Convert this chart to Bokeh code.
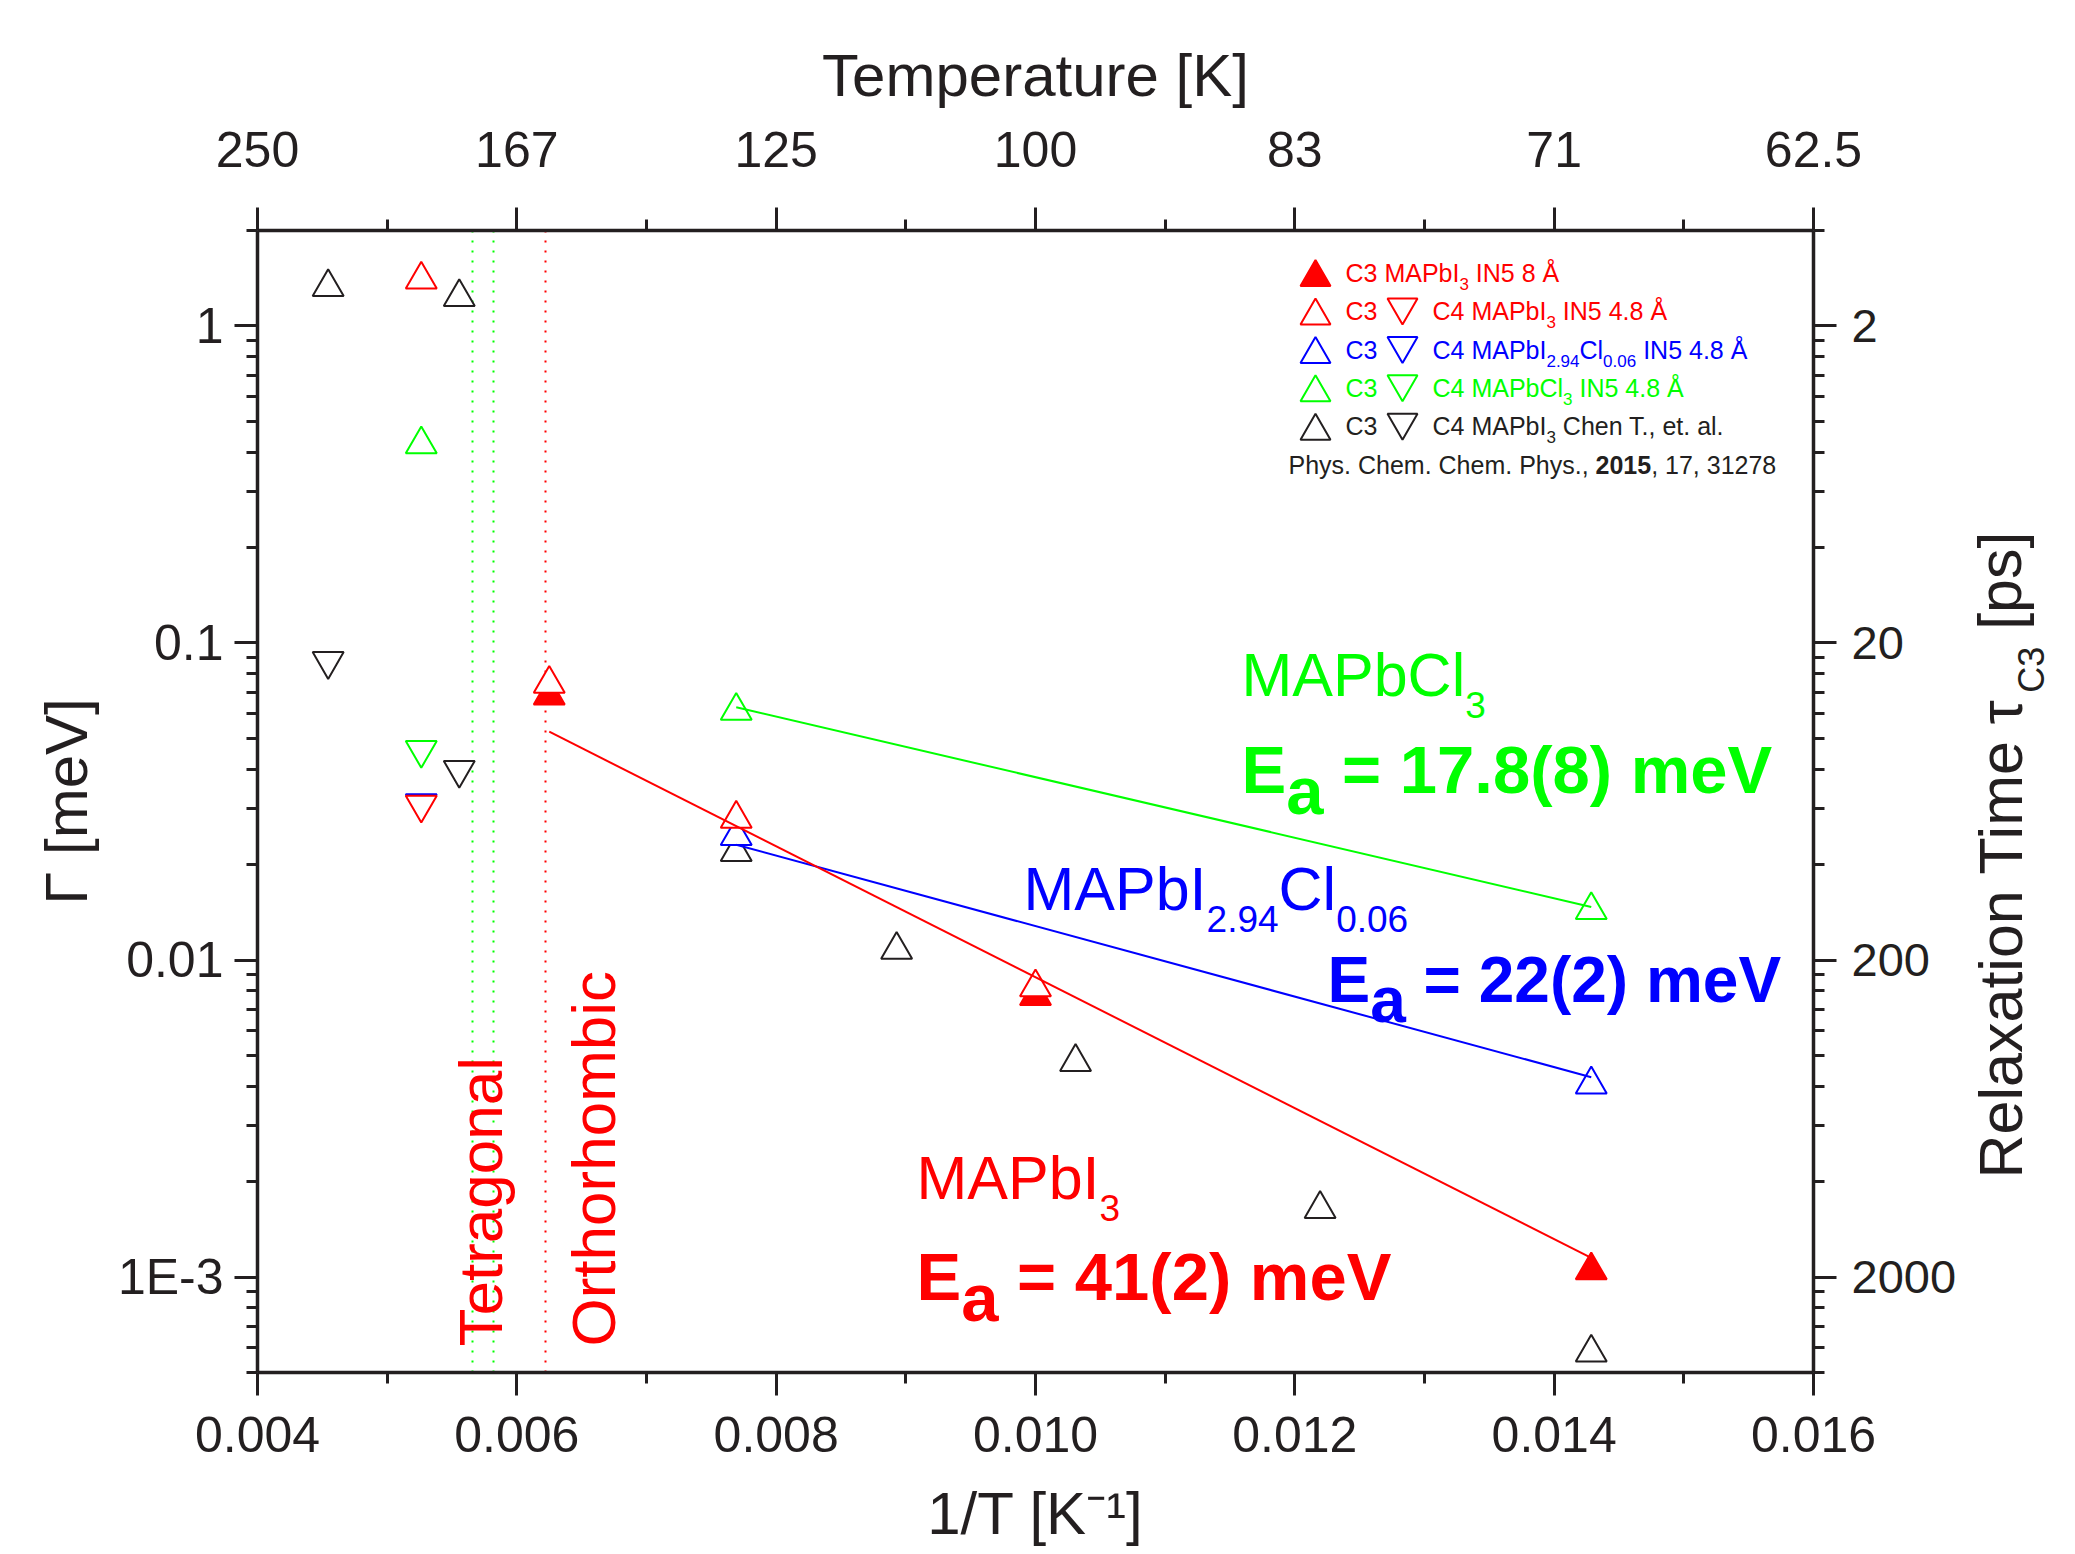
import math
from bokeh.plotting import figure
from bokeh.models import (Label, LinearAxis, LogAxis, FixedTicker,
                          CustomJSTickFormatter, NumeralTickFormatter)
from bokeh.embed import file_html
from bokeh.resources import INLINE

# ---------------- data (x = 1/T [1/K], y = Gamma [meV]) ----------------
red_c3_8A_x = [0.00625, 0.0100, 0.014286]
red_c3_8A_y = [0.0683, 0.0077, 0.00105]
red_c3_x = [0.005263, 0.00625, 0.007692, 0.0100]
red_c3_y = [1.40, 0.0743, 0.0279, 0.0082]
red_c4_x = [0.005263]
red_c4_y = [0.0309]
blue_c3_x = [0.007692, 0.014286]
blue_c3_y = [0.0246, 0.00405]
blue_c4_x = [0.005263]
blue_c4_y = [0.03125]
green_c3_x = [0.005263, 0.007692, 0.014286]
green_c3_y = [0.423, 0.0611, 0.01437]
green_c4_x = [0.005263]
green_c4_y = [0.046]
chen_c3_x = [0.004545, 0.005556, 0.007692, 0.008929, 0.010309, 0.012195, 0.014286]
chen_c3_y = [1.326, 1.233, 0.0219, 0.01077, 0.00477, 0.00164, 0.000578]
chen_c4_x = [0.004545, 0.005556]
chen_c4_y = [0.0877, 0.0398]

fit_red_x = [0.00625, 0.014286]
fit_red_y = [0.0525, 0.00115]
fit_green_x = [0.007692, 0.014286]
fit_green_y = [0.0627, 0.0147]
fit_blue_x = [0.007692, 0.014286]
fit_blue_y = [0.0231, 0.00427]

phase_green_x = [0.005656, 0.005817]
phase_red_x = [0.006218]

x_major = [0.004, 0.006, 0.008, 0.010, 0.012, 0.014, 0.016]
x_minor = [0.005, 0.007, 0.009, 0.011, 0.013, 0.015]
y_major = [0.001, 0.01, 0.1, 1.0]
y_minor = [m * 10.0 ** k for k in range(-4, 1) for m in range(2, 10)
           if 5e-4 <= m * 10.0 ** k <= 2.0]

# ---------------- layout ----------------
W, H = 2075, 1552
FL, FR, FT, FB = 257, 1813, 230, 1372          # frame edges, page px
XR = (0.004, 0.016)
YR = (5e-4, 2.0)
FONT = "Liberation Sans"
DARK = "#231f20"
RED, GREEN, BLUE = "#ff0000", "#00ff00", "#0000ff"
KB = 0.37   # baseline correction for svg labels (fraction of font size)


def dx(X):
    return XR[0] + (X - FL) / (FR - FL) * (XR[1] - XR[0])


def dy(Y):
    l0, l1 = math.log10(YR[0]), math.log10(YR[1])
    return 10 ** (l1 - (Y - FT) / (FB - FT) * (l1 - l0))


p = figure(width=W, height=H, x_range=XR, y_range=YR, y_axis_type="log",
           output_backend="svg", toolbar_location=None,
           min_border_left=FL, min_border_right=W - FR,
           min_border_top=FT, min_border_bottom=H - FB,
           outline_line_color=None, background_fill_color="white",
           border_fill_color="white")
p.xgrid.grid_line_color = None
p.ygrid.grid_line_color = None


def style_axis(ax, standoff, size="50px"):
    ax.axis_line_width = 3.5
    ax.axis_line_color = DARK
    ax.major_tick_line_width = 3
    ax.minor_tick_line_width = 3
    ax.major_tick_line_color = DARK
    ax.minor_tick_line_color = DARK
    ax.major_tick_out = 23
    ax.major_tick_in = 0
    ax.minor_tick_out = 11
    ax.minor_tick_in = 0
    ax.major_label_text_font = FONT
    ax.major_label_text_font_size = size
    ax.major_label_text_color = DARK
    ax.major_label_standoff = standoff
    ax.axis_label_text_font = FONT
    ax.axis_label_text_font_size = "60px"
    ax.axis_label_text_font_style = "normal"
    ax.axis_label_text_color = DARK


xt = FixedTicker(ticks=x_major, minor_ticks=x_minor)
yt = FixedTicker(ticks=y_major, minor_ticks=y_minor)

bottom = p.below[0]
bottom.ticker = xt
bottom.formatter = NumeralTickFormatter(format="0.000")
style_axis(bottom, 21)
bottom.axis_label = "1/T [K\u207b\u00b9]"
bottom.axis_label_standoff = 25

left = p.left[0]
left.ticker = yt
left.formatter = CustomJSTickFormatter(
    code='if (tick < 0.005) { return "1E" + Math.round(Math.log10(tick)); } return tick.toString();')
style_axis(left, 11)
left.axis_label = "Γ [meV]"
left.axis_label_standoff = 15

top = LinearAxis(ticker=xt, formatter=CustomJSTickFormatter(code="""
const t = 1/tick;
if (Math.abs(t - Math.round(t)) < 1e-6) { return String(Math.round(t)); }
if (Math.abs(10*t - Math.round(10*t)) < 1e-6) { return t.toFixed(1); }
return String(Math.round(t));
"""))
style_axis(top, 41)
top.axis_label = "Temperature [K]"
top.axis_label_standoff = 20
p.add_layout(top, "above")

right = LogAxis(ticker=yt, formatter=CustomJSTickFormatter(
    code="return String(Math.round(2/tick));"))
style_axis(right, 15, "47px")
p.add_layout(right, "right")

# ---------------- text width table (Arial / Liberation Sans metrics) ----------------
REG = {' ': 278, '(': 333, ')': 333, ',': 278, '-': 333, '.': 278, '/': 278,
       '=': 584, '[': 278, ']': 278, 'A': 667, 'C': 722, 'E': 667, 'I': 278,
       'K': 667, 'M': 833, 'N': 722, 'P': 667, 'R': 722, 'T': 611, 'V': 667,
       'Å': 667, 'a': 556, 'b': 556, 'c': 500, 'e': 556, 'g': 556, 'h': 556,
       'i': 222, 'l': 222, 'm': 833, 'n': 556, 'o': 556, 'p': 556, 'r': 333,
       's': 500, 't': 278, 'x': 500, 'y': 500, 'τ': 460}
BOLD = {' ': 278, '(': 333, ')': 333, ',': 278, '.': 278, '=': 584,
        'E': 667, 'V': 667, 'a': 556, 'e': 556, 'm': 889}


def tw(s, bold=False):
    t = BOLD if bold else REG
    return sum(t.get(c, 556) for c in s) / 1000.0


# right-hand title "Relaxation Time τ_C3 [ps]" built from label-only side axes
RS, RSUB = 61, 36
TITLE_Y0 = 1178.0                      # page y where the title starts (reads upward)
t_main, t_sub, t_end = "Relaxation Time τ", "C3", "[ps]"
y_sub = TITLE_Y0 - tw(t_main) * RS
y_end = y_sub - tw(t_sub) * RSUB - tw(" ") * RS

PICK = """
let best = 0, d = 1e99;
for (let i = 0; i < tk.length; i++) {
  const e = Math.abs(tick / tk[i] - 1);
  if (e < d) { d = e; best = i; }
}
return tx[best];
"""


def text_axis(ticks, texts, size, standoff):
    ax = LogAxis(ticker=FixedTicker(ticks=ticks, minor_ticks=[]),
                 formatter=CustomJSTickFormatter(args=dict(tk=ticks, tx=texts), code=PICK))
    ax.axis_line_color = None
    ax.major_tick_line_color = None
    ax.minor_tick_line_color = None
    ax.major_tick_out = 0
    ax.major_tick_in = 0
    ax.minor_tick_out = 0
    ax.minor_tick_in = 0
    ax.major_label_orientation = math.pi / 2
    ax.major_label_text_font = FONT
    ax.major_label_text_font_size = f"{size}px"
    ax.major_label_text_color = DARK
    ax.major_label_standoff = standoff
    p.add_layout(ax, "right")


text_axis([dy(TITLE_Y0), dy(y_end)], [t_main, t_end], RS, 41)
text_axis([dy(y_sub)], [t_sub], RSUB, -40)

# ---------------- glyphs ----------------
p.vspan(x=phase_green_x, line_color=GREEN, line_width=2, line_dash="2 8")
p.vspan(x=phase_red_x, line_color=RED, line_width=2, line_dash="2 8")

MS = 31
MW = 2


def tri(x, y, color, marker="triangle", fill="white"):
    p.scatter(x, y, marker=marker, size=MS, line_color=color, line_width=MW,
              fill_color=fill)


tri(chen_c3_x, chen_c3_y, DARK)
tri(chen_c4_x, chen_c4_y, DARK, "inverted_triangle")
tri(green_c3_x, green_c3_y, GREEN)
tri(green_c4_x, green_c4_y, GREEN, "inverted_triangle")
tri(blue_c4_x, blue_c4_y, BLUE, "inverted_triangle")
tri(blue_c3_x, blue_c3_y, BLUE)
tri(red_c3_8A_x, red_c3_8A_y, RED, fill=RED)
tri(red_c3_x, red_c3_y, RED)
tri(red_c4_x, red_c4_y, RED, "inverted_triangle")

p.line(fit_green_x, fit_green_y, line_color=GREEN, line_width=2)
p.line(fit_blue_x, fit_blue_y, line_color=BLUE, line_width=2)
p.line(fit_red_x, fit_red_y, line_color=RED, line_width=2)


# ---------------- labels ----------------
def lab(text, X, Y, size, color, bold=False, angle=0.0):
    # X, Y: intended baseline-left point in page pixels
    if angle == 0.0:
        Y = Y - KB * size
    else:
        X = X - KB * size
    p.add_layout(Label(x=dx(X), y=dy(Y), text=text, text_font=FONT,
                       text_font_size=f"{size}px", text_color=color,
                       text_font_style="bold" if bold else "normal",
                       text_align="left", text_baseline="alphabetic",
                       angle=angle))


def rich(pieces, X, Y, color):
    adv = 0.0
    for text, size, bold, shift in pieces:
        lead = len(text) - len(text.lstrip(" "))
        adv += tw(" " * lead, bold) * size
        core = text.strip(" ")
        if core:
            lab(core, X + adv, Y + shift, size, color, bold)
        adv += tw(text.lstrip(" "), bold) * size


# phase labels
lab("Tetragonal", 503, 1346, 62, RED, angle=math.pi / 2)
lab("Orthorhombic", 616, 1346, 62, RED, angle=math.pi / 2)

# annotations
rich([("MAPbCl", 61, False, 0), ("3", 37, False, 21)], 1241, 697, GREEN)
rich([("E", 67, True, 0), ("a", 67, True, 21), (" = 17.8(8) meV", 67, True, 0)],
     1241, 794, GREEN)
rich([("MAPbI", 61, False, 0), ("2.94", 37, False, 21), ("Cl", 61, False, 0),
      ("0.06", 37, False, 21)], 1023, 911, BLUE)
rich([("E", 64, True, 0), ("a", 64, True, 20), (" = 22(2) meV", 64, True, 0)],
     1327, 1003, BLUE)
rich([("MAPbI", 61, False, 0), ("3", 37, False, 21)], 916, 1200, RED)
rich([("E", 67, True, 0), ("a", 67, True, 21), (" = 41(2) meV", 67, True, 0)],
     916, 1301, RED)

# ---------------- legend ----------------
rows = [272.6, 311.0, 349.4, 387.8, 426.2]
MX_UP, MX_DN, TX1, TX2 = 1315, 1402, 1345, 1432
LS, SS, SH = 25, 17, 8
LMS = 30
legend_colors = [RED, RED, BLUE, GREEN, DARK]
h6 = 0.866 * LMS / 6
for i, (c, yc) in enumerate(zip(legend_colors, rows)):
    fill = RED if i == 0 else "white"
    p.scatter([dx(MX_UP)], [dy(yc + h6)], marker="triangle", size=LMS,
              line_color=c, line_width=MW, fill_color=fill)
    if i > 0:
        p.scatter([dx(MX_DN)], [dy(yc - h6)], marker="inverted_triangle",
                  size=LMS, line_color=c, line_width=MW, fill_color="white")

bl = [r + 9 for r in rows]
rich([("C3 MAPbI", LS, False, 0), ("3", SS, False, SH), (" IN5 8 Å", LS, False, 0)],
     TX1, bl[0], RED)
for i, c in enumerate(legend_colors[1:], start=1):
    rich([("C3", LS, False, 0)], TX1, bl[i], c)
rich([("C4 MAPbI", LS, False, 0), ("3", SS, False, SH), (" IN5 4.8 Å", LS, False, 0)],
     TX2, bl[1], RED)
rich([("C4 MAPbI", LS, False, 0), ("2.94", SS, False, SH), ("Cl", LS, False, 0),
      ("0.06", SS, False, SH), (" IN5 4.8 Å", LS, False, 0)], TX2, bl[2], BLUE)
rich([("C4 MAPbCl", LS, False, 0), ("3", SS, False, SH), (" IN5 4.8 Å", LS, False, 0)],
     TX2, bl[3], GREEN)
rich([("C4 MAPbI", LS, False, 0), ("3", SS, False, SH),
      (" Chen T., et. al.", LS, False, 0)], TX2, bl[4], DARK)
rich([("Phys. Chem. Chem. Phys., ", LS, False, 0), ("2015", LS, True, 0),
      (", 17, 31278", LS, False, 0)], 1288, 473.5, DARK)

open("out.html", "w").write(file_html(p, INLINE))
